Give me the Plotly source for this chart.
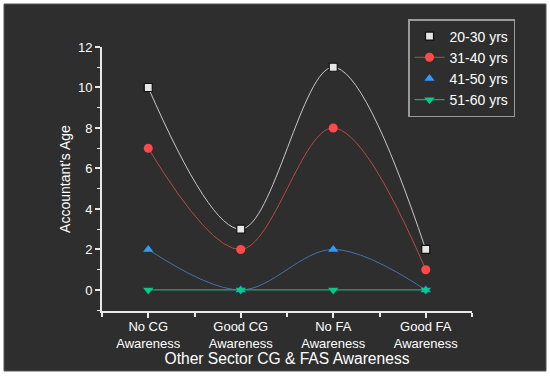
import plotly.graph_objects as go

categories = ["No CG<br>Awareness", "Good CG<br>Awareness", "No FA<br>Awareness", "Good FA<br>Awareness"]
series_names = ["20-30 yrs", "31-40 yrs", "41-50 yrs", "51-60 yrs"]
s_20_30 = [10, 3, 11, 2]
s_31_40 = [7, 2, 8, 1]
s_41_50 = [2, 0, 2, 0]
s_51_60 = [0, 0, 0, 0]
y_ticks = [0, 2, 4, 6, 8, 10, 12]

x = list(range(len(categories)))

styles = [
    dict(line=dict(color="#c8c8c8", width=1, shape="spline"),
         marker=dict(symbol="square", size=8, color="#e6e6e6", line=dict(color="#111111", width=1.2)),
         legend_line=False),
    dict(line=dict(color="#b84a4a", width=1, shape="spline"),
         marker=dict(symbol="circle", size=9, color="#ff4a4a", line=dict(width=0)),
         legend_line=True),
    dict(line=dict(color="#4a70a8", width=1, shape="spline"),
         marker=dict(symbol="triangle-up", size=9, color="#3399ff", line=dict(width=0)),
         legend_line=False),
    dict(line=dict(color="#2aa07a", width=1.3, shape="spline"),
         marker=dict(symbol="triangle-down", size=9, color="#00cc88", line=dict(width=0)),
         legend_line=True),
]

fig = go.Figure()
for name, vals, st in zip(series_names, [s_20_30, s_31_40, s_41_50, s_51_60], styles):
    if st["legend_line"]:
        fig.add_trace(go.Scatter(x=x, y=vals, name=name, mode="lines+markers",
                                 line=st["line"], marker=st["marker"]))
    else:
        fig.add_trace(go.Scatter(x=x, y=vals, name=name, mode="lines",
                                 line=st["line"], showlegend=False, legendgroup=name))
        fig.add_trace(go.Scatter(x=x, y=vals, name=name, mode="markers",
                                 marker=st["marker"], legendgroup=name))

L, R, T, B = 102, 78, 47, 65
pw, ph = 550 - L - R, 376 - T - B

def px_x(p):
    return (p - L) / pw

def px_y(p):
    return (376 - B - p) / ph

fig.add_shape(type="rect", xref="paper", yref="paper",
              x0=px_x(4), x1=px_x(546), y0=px_y(371), y1=px_y(4),
              fillcolor="#2e2e2e", line=dict(color="#555555", width=1), layer="below")

fig.update_layout(
    width=550, height=376,
    margin=dict(l=L, r=R, t=T, b=B, autoexpand=False),
    paper_bgcolor="white",
    plot_bgcolor="rgba(0,0,0,0)",
    font=dict(family="Arial, Liberation Sans, sans-serif", color="white", size=13),
    showlegend=True,
    legend=dict(xref="container", yref="container",
                x=408 / 550, xanchor="left", y=1 - 19 / 376, yanchor="top",
                bgcolor="#2e2e2e", bordercolor="#9a9a9a", borderwidth=1.5,
                font=dict(size=14, color="white"), tracegroupgap=0,
                itemwidth=30),
    xaxis=dict(
        tickmode="array", tickvals=x, ticktext=categories,
        range=[-0.5, 3.5], showgrid=False, zeroline=False,
        showline=True, linecolor="#e8e8e8", linewidth=2,
        ticks="outside", tickcolor="#e8e8e8", ticklen=5, tickwidth=1.5,
        minor=dict(tickvals=[-0.5, 0.5, 1.5, 2.5, 3.5], ticks="outside", ticklen=4, tickcolor="#e8e8e8", tickwidth=1.5),
        tickfont=dict(size=13, color="white"),
        ticklabelstandoff=-3,
        title=dict(text="Other Sector CG & FAS Awareness", font=dict(size=15.6, color="white"), standoff=2),
    ),
    yaxis=dict(
        tickmode="array", tickvals=y_ticks,
        range=[-1.04, 12], showgrid=False, zeroline=False,
        showline=True, linecolor="#e8e8e8", linewidth=2,
        ticks="outside", tickcolor="#e8e8e8", ticklen=5, tickwidth=1.5,
        minor=dict(tickvals=[-1, 1, 3, 5, 7, 9, 11], ticks="outside", ticklen=3, tickcolor="#e8e8e8", tickwidth=1.2),
        tickfont=dict(size=13, color="white"),
        title=dict(text="Accountant's Age", font=dict(size=14, color="white"), standoff=4),
    ),
)

fig.write_html("out.html", config={"displayModeBar": False},
               post_script="document.body.style.margin='0';")
